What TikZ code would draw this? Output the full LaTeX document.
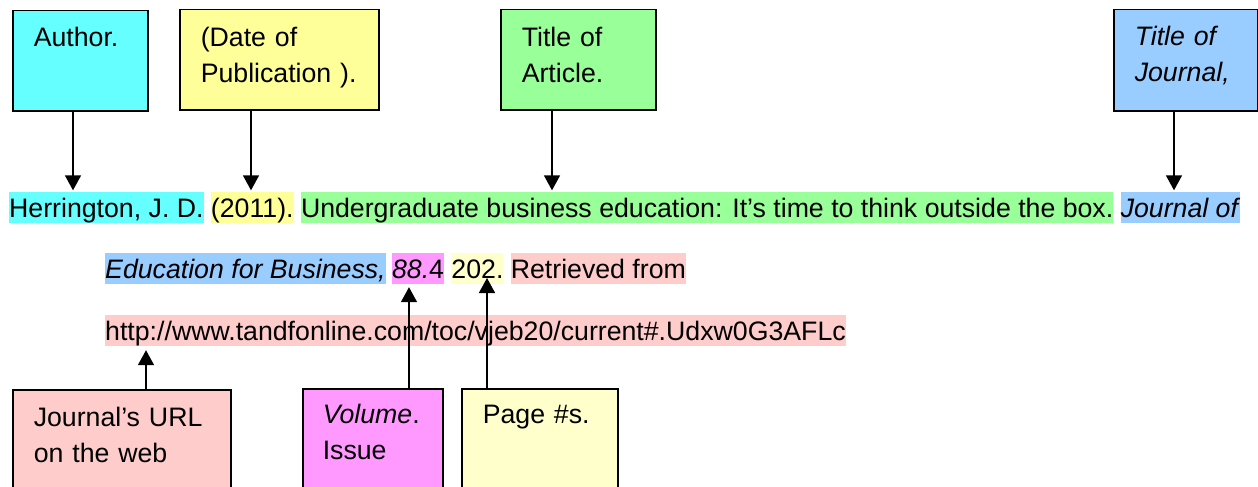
\documentclass[tikz,border=0pt]{standalone}
\usepackage{fontspec}
\setmainfont{Liberation Sans}
\usetikzlibrary{positioning,arrows.meta}

\definecolor{authcyan}{HTML}{66FFFF}
\definecolor{dateyellow}{HTML}{FFFF99}
\definecolor{titlegreen}{HTML}{99FF99}
\definecolor{journalblue}{HTML}{99CCFF}
\definecolor{urlpink}{HTML}{FFCCCC}
\definecolor{volmagenta}{HTML}{FF99FF}
\definecolor{pageyellow}{HTML}{FFFFCC}

\begin{document}
\begin{tikzpicture}[x=1pt,y=-1pt,
    every node/.style={font=\fontsize{26.7}{35.5}\selectfont},
    tag/.style={draw, line width=1.5pt, anchor=north west, align=left,
      inner xsep=21pt, inner ysep=0pt, text height=36pt},
    hl/.style={inner sep=0pt, text height=25pt, text depth=6pt},
    arr/.style={line width=1.6pt, -{Triangle[width=16pt,length=15pt]}}]
  \useasboundingbox (0,0) rectangle (1258,487);

  % boxes on top
  \node[tag, fill=authcyan, text width=93pt, text depth=64pt] (authbox) at (12,10) {Author.};
  \node[tag, fill=dateyellow, text width=157pt, text height=37pt, text depth=63pt] (datebox) at (179,9) {(Date of\\Publication ).};
  \node[tag, fill=titlegreen, text width=113pt, text height=37pt, text depth=63pt] (titlebox) at (500,9) {Title of\\Article.};
  \node[tag, fill=journalblue, text width=102pt, text depth=65pt] (jrnlbox) at (1113,9) {\textit{Title of}\\\textit{Journal,}};

  % row 1
  \node[hl, fill=authcyan, anchor=base west] (herr) at (9,217) {Herrington, J. D.};
  \node[hl, fill=dateyellow, base right=7pt of herr] (year) {(2011).};
  \node[hl, fill=titlegreen, base right=7pt of year] (title) {Undergraduate business education: It’s time to think outside the box.};
  \node[hl, fill=journalblue, base right=7pt of title] (jrnl) {\textit{Journal of}};
  % row 2
  \node[hl, fill=journalblue, anchor=base west] (jrnl2) at (105,278) {\textit{Education for Business,}};
  \node[hl, fill=volmagenta, base right=6pt of jrnl2] (volnum) {\textit{88.}4};
  \node[hl, fill=pageyellow, base right=7pt of volnum] (pagenum) {202.};
  \node[hl, fill=urlpink, base right=7pt of pagenum] (retr) {Retrieved from};
  % row 3
  \node[hl, fill=urlpink, anchor=base west] (url) at (105,340) {http://www.tandfonline.com/toc/vjeb20/current\#.Udxw0G3AFLc};

  % boxes below
  \node[tag, fill=urlpink, text width=176pt, text height=37pt, text depth=80pt] (urlbox) at (12,389) {Journal’s URL\\on the web};
  \node[tag, fill=volmagenta, inner xsep=20pt, text width=100pt, text height=35pt, text depth=80pt] (volbox) at (302,388) {\textit{Volume}.\\Issue};
  \node[tag, fill=pageyellow, text width=114pt, text height=35pt, text depth=80pt] (pagebox) at (461,388) {Page \#s.};

  % links
  \coordinate (xauth) at (73,0);
  \coordinate (xdate) at (251,0);
  \coordinate (xtitle) at (552,0);
  \coordinate (xjrnl) at (1174,0);
  \coordinate (xurl) at (146,0);
  \coordinate (xvol) at (409,0);
  \coordinate (xpage) at (487,0);
  \draw[arr, shorten >=1.5pt] (authbox.south -| xauth) -- (herr.north -| xauth);
  \draw[arr, shorten >=1.5pt] (datebox.south -| xdate) -- (year.north -| xdate);
  \draw[arr, shorten >=1.5pt] (titlebox.south -| xtitle) -- (title.north -| xtitle);
  \draw[arr, shorten >=1.5pt] (jrnlbox.south -| xjrnl) -- (jrnl.north -| xjrnl);
  \draw[arr, shorten >=4pt] (urlbox.north -| xurl) -- (url.south -| xurl);
  \draw[arr, shorten >=3pt] (volbox.north -| xvol) -- (volnum.south -| xvol);
  \draw[arr] (pagebox.north -| xpage) -- (pagenum.base -| xpage);
\end{tikzpicture}
\end{document}
